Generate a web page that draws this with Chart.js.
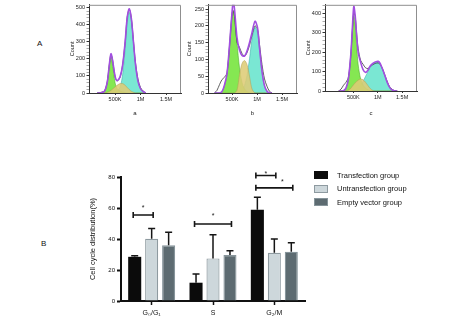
<!DOCTYPE html>
<html>
<head>
<meta charset="utf-8">
<title>Cell cycle distribution</title>
<script src="https://cdn.jsdelivr.net/npm/chart.js@4.4.1/dist/chart.umd.min.js"></script>
<style>
  html, body { margin: 0; padding: 0; background: #fff; }
  body { position: relative; width: 454px; height: 319px; overflow: hidden;
         font-family: "Liberation Sans", Arial, sans-serif; color: #111; }
  canvas.plot { position: absolute; display: block; }
  .panel { position: absolute; font-size: 8px; line-height: 8px; }
  #legend { position: absolute; left: 314px; top: 171px; font-size: 7.5px; }
  #legend .row { display: flex; align-items: center; height: 8px; margin-bottom: 5.5px; white-space: nowrap; }
  #legend .swatch { width: 14px; height: 8px; box-sizing: border-box; margin-right: 9px; }
</style>
</head>
<body>
<div class="panel" style="left:37px;top:40px">A</div>
<div class="panel" style="left:41px;top:240px">B</div>

<canvas id="histA" class="plot" width="124" height="120" style="left:62px;top:0"></canvas>
<canvas id="histB" class="plot" width="123" height="120" style="left:179px;top:0"></canvas>
<canvas id="histC" class="plot" width="124" height="120" style="left:298px;top:0"></canvas>
<canvas id="cycleBars" class="plot" width="260" height="159" style="left:60px;top:160px"></canvas>
<div id="legend"></div>

<script>
(function () {
  "use strict";

  // ─── Histogram data (x = signal in K, y = count) ──────────────────────────

  const aX   = [150, 200, 250, 300, 350, 380, 420, 450, 500, 540, 600, 650, 700, 740, 780, 820, 860, 900, 950, 1000, 1050, 1100];
  const aG1  = [0, 0, 3, 12, 62, 135, 212, 172, 62, 25, 12, 6, 2, 0, 0, 0, 0, 0, 0, 0, 0, 0];
  const aS   = [0, 0, 0, 0, 4, 8, 15, 22, 35, 45, 55, 55, 45, 32, 20, 10, 4, 0, 0, 0, 0, 0];
  const aG2  = [0, 0, 0, 0, 0, 0, 0, 0, 3, 10, 35, 110, 260, 415, 472, 425, 300, 170, 70, 25, 8, 0];
  const aFit = [0, 0, 3, 12, 66, 143, 230, 196, 100, 72, 96, 165, 305, 445, 494, 437, 305, 172, 70, 25, 8, 0];
  const aRaw = [0, 2, 6, 15, 70, 145, 226, 198, 96, 70, 92, 166, 302, 446, 490, 440, 312, 182, 82, 32, 12, 2];

  const bX   = [150, 200, 250, 300, 350, 400, 450, 500, 525, 550, 600, 650, 700, 750, 800, 850, 900, 960, 1010, 1050, 1100, 1150, 1200, 1250, 1300];
  const bG1  = [0, 0, 0, 4, 22, 55, 135, 222, 243, 228, 150, 75, 32, 12, 4, 1, 0, 0, 0, 0, 0, 0, 0, 0, 0];
  const bS   = [0, 0, 0, 0, 0, 0, 0, 0, 0, 0, 8, 55, 88, 97, 85, 50, 12, 0, 0, 0, 0, 0, 0, 0, 0];
  const bG2  = [0, 0, 0, 0, 0, 0, 0, 0, 0, 0, 0, 2, 8, 22, 52, 102, 160, 196, 180, 130, 62, 20, 5, 0, 0];
  const bFit = [0, 0, 0, 4, 24, 58, 142, 240, 272, 250, 165, 128, 112, 110, 125, 150, 180, 214, 195, 135, 65, 22, 5, 0, 0];
  const bRaw = [0, 8, 25, 40, 47, 60, 140, 236, 246, 228, 152, 136, 118, 110, 120, 142, 172, 200, 190, 145, 85, 42, 20, 5, 0];

  const cX   = [200, 250, 300, 350, 400, 450, 480, 510, 540, 570, 600, 650, 700, 750, 800, 850, 900, 950, 1010, 1050, 1100, 1150, 1200, 1250, 1300, 1350, 1400];
  const cG1  = [0, 0, 2, 15, 58, 175, 295, 385, 340, 225, 135, 62, 30, 15, 6, 2, 0, 0, 0, 0, 0, 0, 0, 0, 0, 0, 0];
  const cS   = [0, 0, 0, 0, 4, 14, 24, 34, 42, 50, 56, 62, 58, 45, 28, 12, 3, 0, 0, 0, 0, 0, 0, 0, 0, 0, 0];
  const cG2  = [0, 0, 0, 0, 0, 0, 0, 0, 3, 8, 15, 30, 50, 75, 100, 124, 140, 147, 148, 136, 110, 75, 40, 15, 5, 0, 0];
  const cFit = [0, 0, 2, 15, 64, 192, 322, 437, 385, 280, 200, 148, 110, 96, 108, 130, 143, 150, 153, 142, 112, 77, 41, 16, 5, 0, 0];
  const cRaw = [0, 10, 30, 45, 72, 192, 312, 405, 380, 292, 218, 158, 138, 120, 116, 126, 136, 142, 145, 138, 114, 80, 46, 20, 8, 2, 0];

  const histTicks = [500, 1000, 1500];
  const histTickLabels = ["500K", "1M", "1.5M"];

  // ─── Bar data (%) ──────────────────────────────────────────────────────────

  const phases = ["G\u2080/G\u2081", "S", "G\u2082/M"];
  const groupNames = ["Transfection group", "Untransfection group", "Empty vector group"];
  const transfection = [28.5, 11.8, 58.8];
  const transfectionSd = [0.7, 5.6, 8.2];
  const untransfection = [40.1, 27.5, 31.1];
  const untransfectionSd = [6.7, 15.2, 8.9];
  const emptyVector = [35.9, 29.6, 31.8];
  const emptyVectorSd = [8.5, 2.8, 5.8];
  const barSd = [transfectionSd, untransfectionSd, emptyVectorSd];

  // significance brackets: category, dataset from/to, level (%)
  const sigCategory = [0, 1, 2, 2];
  const sigFrom = [0, 0, 0, 0];
  const sigTo = [1, 2, 1, 2];
  const sigLevel = [55.5, 49.7, 81, 73];
  const sigLabel = ["*", "*", "*", "*"];
  const starLift = [6.8, 7.5, 1.5, 6.1];
  const starShift = [0, 0, 0, 8];

  // ─── Plugins ───────────────────────────────────────────────────────────────

  const frameBox = {
    id: "frameBox",
    afterDraw(chart) {
      const { ctx, chartArea: a } = chart;
      ctx.save();
      ctx.strokeStyle = "#8f8f8f";
      ctx.lineWidth = 1;
      ctx.beginPath();
      ctx.moveTo(a.left, a.top + 0.5);
      ctx.lineTo(a.right - 0.5, a.top + 0.5);
      ctx.lineTo(a.right - 0.5, a.bottom);
      ctx.stroke();
      ctx.restore();
    },
  };

  const errorBars = {
    id: "errorBars",
    afterDatasetsDraw(chart) {
      const { ctx } = chart;
      const y = chart.scales.y;
      ctx.save();
      ctx.strokeStyle = "#151515";
      ctx.lineWidth = 1.5;
      chart.data.datasets.forEach((ds, i) => {
        chart.getDatasetMeta(i).data.forEach((bar, j) => {
          const top = y.getPixelForValue(ds.data[j] + barSd[i][j]);
          ctx.beginPath();
          ctx.moveTo(bar.x, bar.y);
          ctx.lineTo(bar.x, top);
          ctx.moveTo(bar.x - 3.5, top);
          ctx.lineTo(bar.x + 3.5, top);
          ctx.stroke();
        });
      });
      ctx.restore();
    },
  };

  const sigBrackets = {
    id: "sigBrackets",
    afterDatasetsDraw(chart) {
      const { ctx } = chart;
      const y = chart.scales.y;
      ctx.save();
      ctx.strokeStyle = "#151515";
      ctx.fillStyle = "#151515";
      ctx.lineWidth = 1.6;
      ctx.font = '7px "Liberation Sans", Arial, sans-serif';
      ctx.textAlign = "center";
      ctx.textBaseline = "middle";
      sigLevel.forEach((lvl, k) => {
        const x1 = chart.getDatasetMeta(sigFrom[k]).data[sigCategory[k]].x - 1.5;
        const x2 = chart.getDatasetMeta(sigTo[k]).data[sigCategory[k]].x + 1.5;
        const yy = y.getPixelForValue(lvl);
        ctx.beginPath();
        ctx.moveTo(x1, yy - 3);
        ctx.lineTo(x1, yy + 3);
        ctx.moveTo(x1, yy);
        ctx.lineTo(x2, yy);
        ctx.moveTo(x2, yy - 3);
        ctx.lineTo(x2, yy + 3);
        ctx.stroke();
        ctx.fillText(sigLabel[k], (x1 + x2) / 2 + starShift[k], yy - starLift[k]);
      });
      ctx.restore();
    },
  };

  // ─── Histograms ────────────────────────────────────────────────────────────

  function pts(xs, ys) {
    return xs.map((x, i) => ({ x, y: ys[i] }));
  }

  function histChart(id, h) {
    const area = (label, ys, bg, border, order) => ({
      label, data: pts(h.x, ys), order,
      backgroundColor: bg, borderColor: border, borderWidth: 0.6, fill: "origin",
    });
    const line = (label, ys, color, width, order) => ({
      label, data: pts(h.x, ys), order,
      borderColor: color, borderWidth: width, fill: false,
    });

    new Chart(document.getElementById(id), {
      type: "line",
      data: {
        datasets: [
          line("Fit", h.fit, "#a24fe0", 1.6, 1),
          line("Raw", h.raw, "#3a3a3a", 0.8, 2),
          area("S", h.s, "rgba(222, 204, 118, 0.88)", "rgba(175, 155, 80, 0.8)", 3),
          area("G1", h.g1, "rgba(116, 228, 58, 0.88)", "rgba(70, 170, 40, 0.9)", 4),
          area("G2", h.g2, "rgba(108, 228, 206, 0.9)", "rgba(60, 170, 170, 0.9)", 5),
        ],
      },
      options: {
        responsive: false,
        animation: false,
        events: [],
        layout: { padding: { top: h.top, right: 5, left: 0, bottom: 0 } },
        elements: {
          point: { radius: 0 },
          line: { tension: 0.3 },
        },
        plugins: { legend: { display: false }, tooltip: { enabled: false } },
        scales: {
          x: {
            type: "linear",
            min: h.xMin,
            max: h.xMax,
            afterBuildTicks: (s) => { s.ticks = histTicks.map((v) => ({ value: v })); },
            afterFit: (s) => { s.height = h.xh; },
            ticks: {
              autoSkip: false, maxRotation: 0, padding: 1,
              font: { size: 5.5 }, color: "#222",
              callback: (v) => histTickLabels[histTicks.indexOf(v)],
            },
            grid: { drawOnChartArea: false, tickLength: 2, color: "#333" },
            border: { color: "#333", width: 1 },
            title: {
              display: true, text: h.name, color: "#222", font: { size: 6 },
              padding: { top: 0, bottom: 3.4 },
            },
          },
          y: {
            min: 0,
            max: h.yMax,
            afterBuildTicks: (s) => {
              const t = [];
              for (let v = 0; v <= h.yMax; v += h.yMinor) t.push({ value: v });
              s.ticks = t;
            },
            afterFit: (s) => { s.width = h.yw; },
            ticks: {
              autoSkip: false, padding: 1.5,
              font: { size: 5.5 }, color: "#222",
              callback: (v) => (v % h.yMajor === 0 ? String(v) : ""),
            },
            grid: {
              drawOnChartArea: false, tickLength: 2.5,
              tickColor: (c) => (c.tick && c.tick.value % h.yMajor === 0 ? "#333" : "#aaa"),
            },
            border: { color: "#333", width: 1 },
            title: {
              display: true, text: "Count", color: "#222", font: { size: 5.5 },
              padding: { top: 7.4, bottom: 0 },
            },
          },
        },
      },
      plugins: [frameBox],
    });
  }

  histChart("histA", {
    x: aX, g1: aG1, s: aS, g2: aG2, fit: aFit, raw: aRaw, name: "a",
    xMin: -10, xMax: 1794, yMax: 517, yMajor: 100, yMinor: 20, yw: 27, xh: 27, top: 3,
  });
  histChart("histB", {
    x: bX, g1: bG1, s: bS, g2: bG2, fit: bFit, raw: bRaw, name: "b",
    xMin: 20, xMax: 1800, yMax: 263, yMajor: 50, yMinor: 10, yw: 29, xh: 27, top: 3,
  });
  histChart("histC", {
    x: cX, g1: cG1, s: cS, g2: cG2, fit: cFit, raw: cRaw, name: "c",
    xMin: -80, xMax: 1805, yMax: 445, yMajor: 100, yMinor: 20, yw: 27, xh: 29, top: 2,
  });

  // ─── Bar chart ─────────────────────────────────────────────────────────────

  const barChart = new Chart(document.getElementById("cycleBars"), {
    type: "bar",
    data: {
      labels: phases,
      datasets: [
        { label: groupNames[0], data: transfection, backgroundColor: "#0b0b0b", borderColor: "#0b0b0b", borderWidth: 0 },
        { label: groupNames[1], data: untransfection, backgroundColor: "#cdd7db", borderColor: "#8e9aa0", borderWidth: 1.2 },
        { label: groupNames[2], data: emptyVector, backgroundColor: "#5d6b71", borderColor: "#86949a", borderWidth: 1.2 },
      ],
    },
    options: {
      responsive: false,
      animation: false,
      events: [],
      layout: { padding: { top: 17, right: 15, left: 0, bottom: 0 } },
      datasets: { bar: { categoryPercentage: 0.83, barPercentage: 0.77 } },
      plugins: { legend: { display: false }, tooltip: { enabled: false } },
      scales: {
        x: {
          afterFit: (s) => { s.height = 18; },
          ticks: { font: { size: 7 }, color: "#111", padding: 4 },
          grid: { offset: false, drawOnChartArea: false, tickLength: 4, tickWidth: 1.5, tickColor: "#111" },
          border: { color: "#111", width: 2 },
        },
        y: {
          min: 0,
          max: 80,
          afterFit: (s) => { s.width = 61; },
          ticks: { stepSize: 20, font: { size: 6 }, color: "#111", padding: 2 },
          grid: { drawOnChartArea: false, tickLength: 4, tickWidth: 2, tickColor: "#111" },
          border: { color: "#111", width: 2 },
          title: {
            display: true, text: "Cell cycle distribution(%)", color: "#111", font: { size: 7.5 },
            padding: { top: 28.5, bottom: 0 },
          },
        },
      },
    },
    plugins: [errorBars, sigBrackets],
  });

  // ─── HTML legend ───────────────────────────────────────────────────────────

  const legendEl = document.getElementById("legend");
  Chart.defaults.plugins.legend.labels.generateLabels(barChart).forEach((item) => {
    const row = document.createElement("div");
    row.className = "row";
    const sw = document.createElement("span");
    sw.className = "swatch";
    sw.style.background = item.fillStyle;
    sw.style.border = (item.lineWidth || 0) + "px solid " + item.strokeStyle;
    const txt = document.createElement("span");
    txt.textContent = item.text;
    row.appendChild(sw);
    row.appendChild(txt);
    legendEl.appendChild(row);
  });
})();
</script>
</body>
</html>
